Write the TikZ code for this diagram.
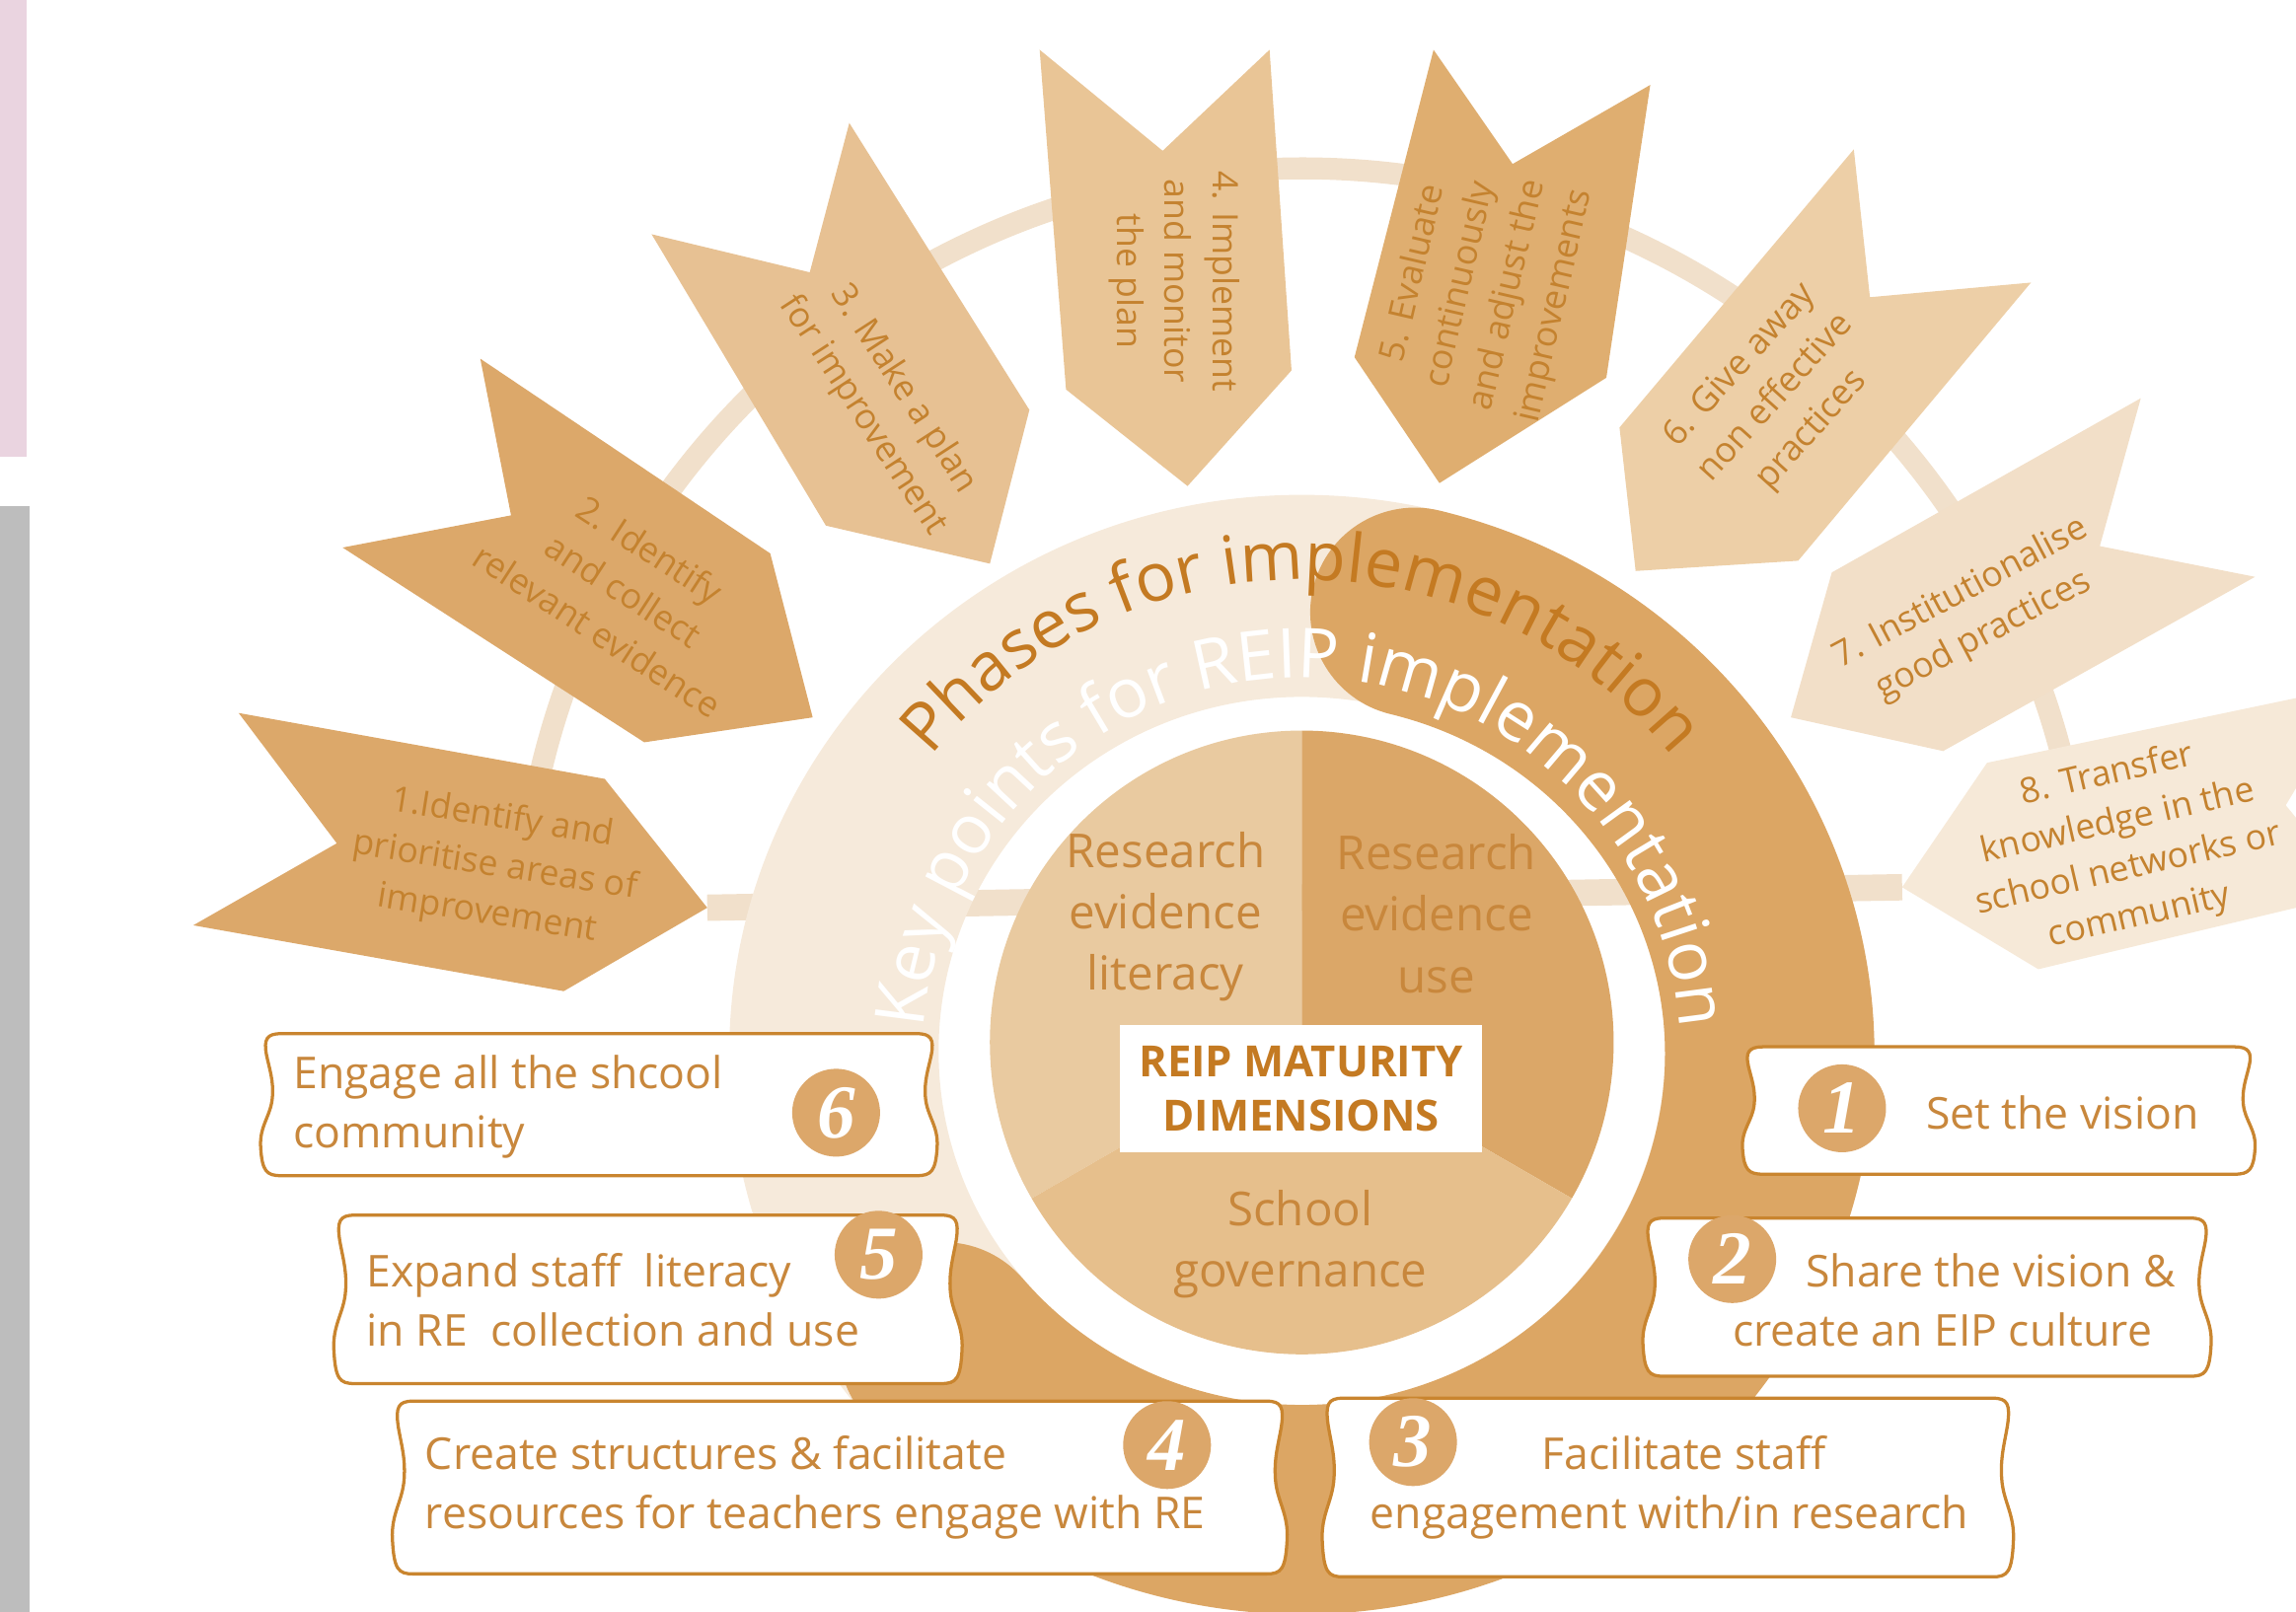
\documentclass[tikz,border=0pt]{standalone}
\usepackage{fontspec}
\setmainfont{Open Sans}
\newfontfamily\digitfont{Liberation Serif}
\usetikzlibrary{decorations.text}

\definecolor{tabpink}{HTML}{EAD4E0}
\definecolor{tabgray}{HTML}{BDBDBD}
\definecolor{ringcol}{HTML}{F1E0CB}
\definecolor{cream}{HTML}{F6EADB}
\definecolor{darkband}{HTML}{DCA664}
\definecolor{pieA}{HTML}{E9CAA0}
\definecolor{pieB}{HTML}{DBA768}
\definecolor{pieC}{HTML}{E6BF8C}
\definecolor{arA}{HTML}{DCA86A}
\definecolor{arB}{HTML}{E7C193}
\definecolor{arC}{HTML}{E9C596}
\definecolor{arD}{HTML}{DFAE70}
\definecolor{arE}{HTML}{EDCFA7}
\definecolor{arF}{HTML}{F2DFC8}
\definecolor{arG}{HTML}{F6E9D8}
\definecolor{txt}{HTML}{C8873C}
\definecolor{ttl}{HTML}{C47A22}
\definecolor{phtxtcol}{HTML}{C4822F}
\definecolor{boxedge}{HTML}{C9852F}
\definecolor{numcol}{HTML}{DCA76A}

% scroll-like box: straight top and bottom, wavy sides
\newcommand{\scrollbox}[4]{%
  \pgfmathsetmacro{\sbh}{#4-#2}%
  \draw[boxline] (#1+12,#2) -- (#3-12,#2)
    .. controls (#3-2,#2) and (#3,#2+4) .. (#3-2,#2+0.15*\sbh)
    .. controls (#3-4,#2+0.25*\sbh) and (#3-7,#2+0.33*\sbh) .. (#3-6,#2+0.45*\sbh)
    .. controls (#3-5,#2+0.58*\sbh) and (#3+3,#2+0.65*\sbh) .. (#3+2,#2+0.8*\sbh)
    .. controls (#3+1,#4-3) and (#3-2,#4) .. (#3-12,#4)
    -- (#1+12,#4)
    .. controls (#1+2,#4) and (#1-1,#4-3) .. (#1-2,#2+0.8*\sbh)
    .. controls (#1-3,#2+0.65*\sbh) and (#1+5,#2+0.58*\sbh) .. (#1+6,#2+0.45*\sbh)
    .. controls (#1+7,#2+0.33*\sbh) and (#1+4,#2+0.25*\sbh) .. (#1+2,#2+0.15*\sbh)
    .. controls (#1,#2+4) and (#1+2,#2) .. cycle;}

\tikzset{
  boxline/.style={draw=boxedge, fill=white, line width=1.1pt},
  phtxt/.style={text=phtxtcol, align=center, inner sep=0pt,
    font=\fontsize{12}{16.5}\selectfont},
  pietxt/.style={text=txt, align=center, inner sep=0pt,
    font=\fontsize{16}{21}\selectfont},
  boxtxt/.style={text=txt, align=left, inner sep=0pt,
    font=\fontsize{15}{20}\selectfont},
  numc/.style={circle, fill=numcol, minimum size=30pt, inner sep=0pt,
    text=white, font=\digitfont\bfseries\itshape\fontsize{26}{26}\selectfont},
  lbl/.style={fill=white, text=ttl, align=center, inner sep=0pt,
    minimum width=123.5pt, minimum height=43.5pt,
    font=\bfseries\fontsize{14.7}{18.5}\selectfont},
}

\begin{document}
\begin{tikzpicture}[x=0.5pt,y=-0.5pt]
\useasboundingbox (0,0) rectangle (1568,1101);

% side tabs
\fill[tabpink] (0,0) rectangle (18,312);
\fill[tabgray] (0,346) rectangle (20,1101);

% ring linking the phases and the bar between the outer tips
\draw[ringcol, line width=7.5pt] (890,650) ++(-175:535) arc[start angle=-175, end angle=-5, radius=535];
\coordinate (tip1) at (483,620);
\coordinate (tip8) at (1299,606);
\draw[ringcol, line width=9pt] (tip1) -- (tip8);

% phase arrows
\fill[arA] (163,487) -- (413,532) -- (483,620) -- (385,677) -- (132,632) -- (230,576) -- cycle;
\fill[arA] (328,245) -- (526,378) -- (555,490) -- (440,507) -- (234,374) -- (349,352) -- cycle;
\fill[arB] (580,84) -- (703,280) -- (676,385) -- (564,359) -- (445,160) -- (553,186) -- cycle;
\fill[arC] (710,34) -- (794,103) -- (867,34) -- (882,253) -- (811,332) -- (728,266) -- cycle;
\fill[arD] (979,34) -- (1033,112) -- (1127,58) -- (1097,258) -- (983,330) -- (925,244) -- cycle;
\fill[arE] (1266,102) -- (1277,203) -- (1387,193) -- (1228,383) -- (1117,390) -- (1106,292) -- cycle;
\fill[arF] (1462,272) -- (1434,373) -- (1540,394) -- (1327,513) -- (1223,490) -- (1251,391) -- cycle;
\fill[arG] (1610,468) -- (1561,550) -- (1610,610) -- (1392,662) -- (1299,606) -- (1357,521) -- cycle;

\node[phtxt, rotate=-9] (ph1) at (338,592) {1.Identify and\\prioritise areas of\\improvement};
\node[phtxt, rotate=-33] (ph2) at (426,403) {2. Identify\\and collect\\relevant evidence};
\node[phtxt, rotate=-57] (ph3) at (603,275) {3. Make a plan\\for improvement};
\node[phtxt, rotate=-90] (ph4) at (802,192) {4. Implement\\and monitor\\the plan};
\node[phtxt, rotate=77] (ph5) at (1014,198) {5. Evaluate\\continuously\\and adjust the\\improvements};
\node[phtxt, rotate=48] (ph6) at (1213,272) {6. Give away\\non effective\\practices};
\node[phtxt, rotate=28] (ph7) at (1347,420) {7. Institutionalise\\good practices};
\node[phtxt, rotate=13] (ph8) at (1450,578) {8. Transfer\\knowledge in the\\school networks or\\community};

% outer band
\fill[cream, even odd rule] (889,720) ellipse[x radius=391, y radius=382]
  (889,718) ellipse[x radius=248, y radius=242];
\draw[darkband, line width=71.5pt, line cap=round] (889,720) ++(-76:319.5 and 311)
  arc[start angle=-76, end angle=140, x radius=319.5, y radius=311];

% band titles
\path[decorate, decoration={text along path, text align=center, text color=ttl,
  text={|\fontsize{23}{28}\selectfont|Phases for implementation}}]
  (889,722) ++(180:326) arc[start angle=180, end angle=360, radius=326];
\path[decorate, decoration={text along path, text align=center, text color=white,
  text={|\fontsize{23.5}{28}\selectfont|Key points for REIP implementation}}]
  (889,722) ++(180:259) arc[start angle=180, end angle=360, radius=259];

% maturity dimensions
\fill[pieA] (889,712) -- ++(-90:213) arc[start angle=-90, end angle=-210, radius=213] -- cycle;
\fill[pieB] (889,712) -- ++(-90:213) arc[start angle=-90, end angle=30, radius=213] -- cycle;
\fill[pieC] (889,712) -- ++(150:213) arc[start angle=150, end angle=30, radius=213] -- cycle;

\node[pietxt] (lit) at (796,626) {Research\\evidence\\literacy};
\node[pietxt] (use) at (981,624) {Research\\evidence\\use};
\node[pietxt] (gov) at (888,850) {School\\governance};
\node[lbl] (mat) at (888.5,743.5) {REIP MATURITY\\DIMENSIONS};

% key points boxes
\scrollbox{180}{706}{638}{803}
\scrollbox{230}{830}{655}{945}
\scrollbox{270}{957}{877}{1075}
\scrollbox{1192}{715}{1538}{802}
\scrollbox{1124}{832}{1508}{940}
\scrollbox{905}{955}{1373}{1077}

\node[boxtxt, anchor=west] (k6) at (200,756) {Engage all the shcool\\community};
\node[numc] (n6) at (571,760) {6};
\node[boxtxt, anchor=west] (k5) at (250,888) {Expand staff\ \ literacy\\in RE\ \ collection and use};
\node[numc] (n5) at (600,857) {5};
\node[boxtxt, anchor=west] (k4) at (290,1016) {Create structures \& facilitate\\resources for teachers engage with RE};
\node[numc] (n4) at (797,987) {4};
\node[numc] (n1) at (1258,757) {1};
\node[boxtxt, anchor=west] (k1) at (1315,760) {Set the vision};
\node[numc] (n2) at (1183,860) {2};
\node[boxtxt, anchor=west] (k2a) at (1233,868) {Share the vision \&};
\node[boxtxt, anchor=west] (k2b) at (1183,908) {create an EIP culture};
\node[numc] (n3) at (965,985) {3};
\node[boxtxt, align=center] (k3) at (1140,1016) {\hspace*{10pt}Facilitate staff\\engagement with/in research};

\end{tikzpicture}
\end{document}
